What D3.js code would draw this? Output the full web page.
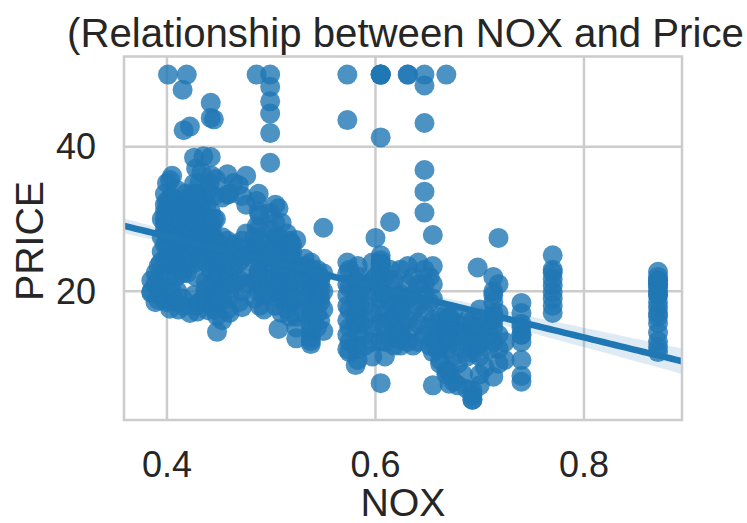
<!DOCTYPE html>
<html>
<head>
<meta charset="utf-8">
<script src="https://cdn.jsdelivr.net/npm/d3@7"></script>
<style>
  html, body { margin: 0; padding: 0; background: #fff; }
  text { font-family: "Liberation Sans", Arial, sans-serif; fill: #262626; }
</style>
</head>
<body>
<svg id="chart" width="747" height="523"></svg>
<script>
// NOX levels and the prices seen at each level
const noxLevels = [0.385, 0.389, 0.392, 0.394, 0.395, 0.398, 0.400, 0.401, 0.402, 0.403,
  0.404, 0.405, 0.407, 0.409, 0.410, 0.411, 0.412, 0.413, 0.415, 0.416,
  0.418, 0.419, 0.422, 0.424, 0.426, 0.427, 0.428, 0.429, 0.431, 0.433,
  0.434, 0.435, 0.437, 0.438, 0.439, 0.441, 0.442, 0.443, 0.445, 0.447,
  0.448, 0.449, 0.453, 0.458, 0.460, 0.464, 0.469, 0.472, 0.476, 0.484,
  0.486, 0.488, 0.489, 0.493, 0.499, 0.504, 0.507, 0.510, 0.515, 0.518,
  0.520, 0.524, 0.532, 0.538, 0.544, 0.547, 0.550, 0.573, 0.575, 0.581,
  0.583, 0.585, 0.590, 0.597, 0.600, 0.605, 0.609, 0.614, 0.618, 0.624,
  0.631, 0.636, 0.641, 0.647, 0.652, 0.655, 0.659, 0.662, 0.668, 0.671,
  0.675, 0.679, 0.684, 0.688, 0.693, 0.698, 0.700, 0.705, 0.709, 0.713,
  0.718, 0.724, 0.740, 0.770, 0.871];

const priceAtLevel = [
  [20, 21.5, 19.8], [22.5, 18.5, 21], [23.5, 19.5, 18.8], [24, 20.5, 22], [30, 27.5, 25.5],
  [33.5, 32, 31, 28.5, 26.5, 24.5, 30, 29.5, 19], [35, 32.5, 30, 28, 26, 27, 31, 29, 18.5], [50, 24, 22],
  [32, 28, 26], [35.4, 32, 29.5, 25.5, 28, 17.6],
  [33, 24, 20.5], [36, 33, 31, 28.5, 26, 24, 30, 19.5], [30, 27.5, 25],
  [32.5, 31, 30, 28, 24.5, 29, 22, 18.5],
  [34, 27, 26.5, 29, 20], [28.4, 25, 27, 17.5, 23], [31.5, 26.5], [30.5, 26, 28, 24.1, 23.4, 29, 27.5],
  [47.9, 30.5, 28, 22.5, 19], [42.3, 28, 26, 23, 18],
  [33.5, 31, 28, 25.5], [50, 29, 30.5, 24, 22.5], [42.8, 33, 32, 30, 29, 27, 24, 31.5, 17], [31, 28.5, 25],
  [38.5, 34.9, 33.5, 32, 30, 26.6, 23.9, 24.8, 28.5, 19.5], [29.5, 26], [37, 31, 29, 27.5, 30, 22, 18],
  [33.5, 29, 28, 26, 17.2], [35, 33, 31.5, 30.5, 28, 26, 29.5, 18.5], [36.5, 31.5, 28.5, 27, 24.5, 27],
  [30, 25.5], [38.7, 33, 28.5, 30.5, 19], [30, 28, 25, 21.4, 27, 20, 29, 20.3], [32, 29.5, 24],
  [34, 26, 24.2, 28, 17.4], [35, 27], [46.1, 44, 38.6, 31, 29.5, 25.5, 23], [36, 29, 25, 21, 18],
  [43.8, 33.2, 30, 27.5, 26.5, 24.5, 21.4, 17.5], [35.5, 30, 27, 24, 19],
  [25.3, 24.7, 21.2, 19.3, 20, 16.6, 14.4, 19.4], [26.6, 22.5, 22.2, 23.6, 18.5],
  [33, 27.5, 23.5, 25, 22.2, 19.6, 18.7, 16], [36.2, 33.4, 27, 24, 21, 17.5], [33.5, 25.5, 22, 19.5, 17],
  [35, 26.5, 23.5, 21], [34.7, 21.6, 26, 18.5, 24], [33.2, 27, 24.5, 22, 20, 17.8],
  [36, 32, 28, 25, 21], [27.5, 26, 24, 21.5, 19],
  [50, 32.5, 29, 26], [33.5, 31, 28.7, 26, 25, 22.6, 22, 22.9, 20], [30.5, 27, 24.5, 21, 18],
  [25.5, 24.5, 22, 19.5, 17.5], [50, 48.3, 46.3, 44.6, 41.9, 37.8, 28.5, 27, 20, 21, 24.7, 30.8],
  [32, 29.5, 27.5, 26.5, 23.8, 22, 20, 18], [31.5, 27.5, 25, 23, 21, 19, 14.8],
  [29.5, 27, 26, 23.1, 22.6, 21, 19, 17], [28, 26, 24.5, 22, 19.5, 17.5], [27, 26.5, 25, 23, 21, 19, 16.5],
  [18.6, 19.3, 20.1, 19.5, 21.7, 22.8, 18.8, 24.5, 25.5, 26.5], [22.9, 27.1, 16.5, 18.9, 15, 21.7, 13.5],
  [24.5, 23.5, 22, 19.5, 17], [24, 22, 21, 20.4, 18.2, 19.9, 23.1, 17.5, 13.6, 15.2, 14.5, 13.1, 12.7, 16.6],
  [23, 22, 21, 19, 17, 15], [22, 20.3, 18.5, 21.2, 19.2, 16], [28.8, 22.5, 20, 17.5, 14.5],
  [50, 43.7, 24, 22.5, 21, 19.5, 18, 16, 14, 12], [23, 20.5, 17.5, 15, 13, 11.6],
  [17.3, 18.8, 21.4, 15.7, 16.2, 9.8, 12.5],
  [23.5, 21, 19, 17, 14.5, 12, 10.5], [22, 20, 18, 15.5], [21, 18, 16, 14, 12.5],
  [24, 21.5, 19.5, 17, 15, 13, 11], [27.4, 22, 20],
  [50, 50, 50, 50, 41.3, 24.3, 23.3, 22.7, 25, 23.8, 23.8, 22.3, 17.4, 19.1, 15.6, 13.1, 7.3],
  [22, 19.5, 17, 15, 13, 11], [29.6, 23, 21, 18.5, 16, 13.5], [21.5, 18.5, 16.5, 14.5, 12.5],
  [18, 14.3, 19.2, 19.6, 23, 18.4, 15.6, 18.1, 17.4, 17.1, 13.3, 17.8, 14, 14.4, 12.5],
  [50, 50, 23.5, 21, 19, 16, 13], [22, 19.5, 17.5, 15, 12.5], [24, 21, 18, 15.5, 13],
  [50, 48.5, 43.3, 36.8, 33.8, 30.9, 23, 21, 19.5, 17, 14], [22, 18.5, 15, 12.5],
  [27.8, 23.5, 21, 19, 16, 13.5, 11.6, 7], [15.5, 14, 12, 13], [16.5, 14.5, 12.5, 10.5, 10],
  [50, 17, 15.5, 14, 12, 9, 8.5],
  [16, 13.8, 13.8, 15, 13.9, 13.3, 13.1, 15.5, 16, 14.5, 15, 16.5, 8.8, 7.2],
  [17, 15, 13, 11, 7.5], [15.5, 14, 12.5, 10, 7], [8.5], [16, 14.5, 13, 11, 6.5],
  [15, 13, 11.5, 16, 15.5, 14, 13, 6.3, 5.6, 5, 5, 12], [23.3],
  [17.5, 15, 12.7, 11, 14.5, 13, 8.5, 7], [9.5], [16, 14, 12],
  [22, 20, 18.5, 16.5, 17, 16, 15, 13, 8.2, 19.5],
  [27.4, 21, 17, 14, 12, 10], [13, 10.5], [18.4, 17, 15.5, 14, 15, 14, 13, 10.5, 8.3, 7.5],
  [25, 23, 22.6, 21.7, 20.8, 19.9, 19, 18, 17],
  [22.7, 21.5, 21, 20, 19.6, 19.4, 17.8, 17, 21.5, 15.6, 20.5, 18.5, 16.5, 21, 22, 14.3, 13.1, 12.3, 11.6]
];

const xTicks = [0.4, 0.6, 0.8];
const yTicks = [20, 40];

const points = [];
noxLevels.forEach((n, i) => priceAtLevel[i].forEach(p => points.push({ nox: n, price: p })));

const svg = d3.select('#chart');
const plotLeft = 124, plotRight = 682, plotTop = 56.5, plotBottom = 420;

const x = d3.scaleLinear().domain([0.3588, 0.894]).range([plotLeft, plotRight]);
const y = d3.scaleLinear().domain([2.2, 52.5]).range([plotBottom, plotTop]);

// grid
svg.append('g').selectAll('line').data(xTicks).enter().append('line')
  .attr('x1', d => x(d)).attr('x2', d => x(d)).attr('y1', plotTop).attr('y2', plotBottom)
  .style('stroke', '#cccccc').style('stroke-width', 2.5);
svg.append('g').selectAll('line').data(yTicks).enter().append('line')
  .attr('x1', plotLeft).attr('x2', plotRight).attr('y1', d => y(d)).attr('y2', d => y(d))
  .style('stroke', '#cccccc').style('stroke-width', 2.5);

// points
svg.append('g').selectAll('circle').data(points).enter().append('circle')
  .attr('cx', d => x(d.nox)).attr('cy', d => y(d.price)).attr('r', 10)
  .style('fill', '#1f77b4').style('fill-opacity', 0.8);

// least squares fit with 95% band
const n = points.length;
const mx = d3.mean(points, d => d.nox), my = d3.mean(points, d => d.price);
const sxx = d3.sum(points, d => (d.nox - mx) ** 2);
const sxy = d3.sum(points, d => (d.nox - mx) * (d.price - my));
const slope = sxy / sxx, intercept = my - slope * mx;
const s = Math.sqrt(d3.sum(points, d => (d.price - intercept - slope * d.nox) ** 2) / (n - 2));
const grid = d3.range(0, 101).map(i => x.domain()[0] + i / 100 * (x.domain()[1] - x.domain()[0]));
const fit = grid.map(g => {
  const yh = intercept + slope * g;
  const ci = 1.965 * s * Math.sqrt(1 / n + (g - mx) ** 2 / sxx);
  return { g: g, yh: yh, lo: yh - ci, hi: yh + ci };
});

svg.append('path').datum(fit)
  .attr('d', d3.area().x(d => x(d.g)).y0(d => y(d.lo)).y1(d => y(d.hi)))
  .style('fill', '#1f77b4').style('fill-opacity', 0.15);
svg.append('path').datum(fit)
  .attr('d', d3.line().x(d => x(d.g)).y(d => y(d.yh)))
  .style('fill', 'none').style('stroke', '#1f77b4').style('stroke-width', 6.5);

// frame
svg.append('rect').attr('x', plotLeft).attr('y', plotTop)
  .attr('width', plotRight - plotLeft).attr('height', plotBottom - plotTop)
  .style('fill', 'none').style('stroke', '#cccccc').style('stroke-width', 2.5);

// tick labels
svg.append('g').selectAll('text').data(xTicks).enter().append('text')
  .attr('x', d => x(d)).attr('y', 477).attr('text-anchor', 'middle')
  .style('font-size', '36px').text(d => d.toFixed(1));
svg.append('g').selectAll('text').data(yTicks).enter().append('text')
  .attr('x', 96).attr('y', d => y(d)).attr('dy', '0.35em').attr('text-anchor', 'end')
  .style('font-size', '36px').text(d => d);

// axis labels and title (the image is cropped just after "Price")
svg.append('text').attr('x', (plotLeft + plotRight) / 2).attr('y', 516).attr('text-anchor', 'middle')
  .style('font-size', '39.3px').text('NOX');
svg.append('text').attr('transform', 'translate(43,241) rotate(-90)').attr('text-anchor', 'middle')
  .style('font-size', '39.3px').text('PRICE');
svg.append('text').attr('x', 67).attr('y', 47).attr('text-anchor', 'start')
  .style('font-size', '40.2px').text('(Relationship between NOX and Price');
</script>
</body>
</html>
